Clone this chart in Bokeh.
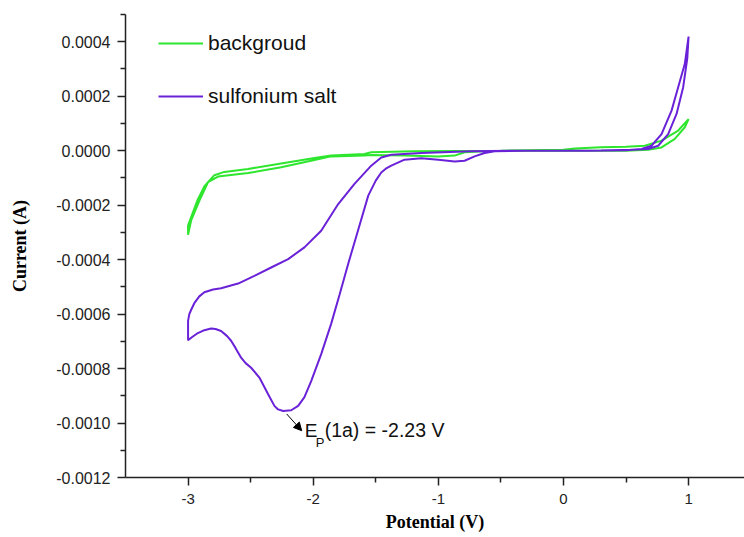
from bokeh.plotting import figure
from bokeh.models import (Range1d, FixedTicker, Legend, LegendItem, Label, Arrow,
                          NormalHead, CustomJSTickFormatter)
from bokeh.embed import file_html
from bokeh.resources import INLINE

# ---- data (potential in V, current in A) ----
salt_v = [0.0, -0.3, -0.55, -0.63, -0.71, -0.79, -0.87, -1.0, -1.136, -1.27, -1.376,
          -1.42, -1.456, -1.5, -1.56, -1.64, -1.72, -1.79, -1.856, -1.936, -2.016,
          -2.07, -2.12, -2.176, -2.24, -2.28, -2.31, -2.36, -2.43, -2.496, -2.54,
          -2.576, -2.62, -2.656, -2.69, -2.736, -2.78, -2.816, -2.87, -2.93, -2.97,
          -3.0, -3.0, -2.99, -2.976, -2.95, -2.91, -2.87, -2.8, -2.736, -2.6,
          -2.47, -2.336, -2.2, -2.07, -1.936, -1.8, -1.67, -1.536, -1.456, -1.376,
          -1.136, -0.736, -0.4, 0.0, 0.3, 0.55, 0.677, 0.757, 0.837, 0.904, 0.957,
          0.99, 1.0, 0.97, 0.917, 0.864, 0.784, 0.704, 0.624, 0.5, 0.2, 0.0]
salt_i = [0.0, 0.0, -2.5e-6, -8.6e-6, -2.1e-5, -3.7e-5, -4.0e-5, -3.3e-5, -2.8e-5,
          -3.3e-5, -5.5e-5, -6.6e-5, -8.0e-5, -1.1e-4, -1.65e-4, -2.9e-4, -4.15e-4,
          -5.3e-4, -6.35e-4, -7.47e-4, -8.46e-4, -9.05e-4, -9.37e-4, -9.53e-4,
          -9.56e-4, -9.5e-4, -9.37e-4, -8.94e-4, -8.33e-4, -7.97e-4, -7.8e-4,
          -7.6e-4, -7.25e-4, -6.98e-4, -6.8e-4, -6.62e-4, -6.55e-4, -6.53e-4,
          -6.59e-4, -6.72e-4, -6.85e-4, -6.96e-4, -6.25e-4, -6.0e-4, -5.85e-4,
          -5.6e-4, -5.35e-4, -5.2e-4, -5.1e-4, -5.05e-4, -4.88e-4, -4.6e-4, -4.29e-4,
          -3.98e-4, -3.55e-4, -2.94e-4, -1.96e-4, -1.22e-4, -5.5e-5, -2.5e-5, -1.5e-5,
          -8.6e-6, -2.5e-6, 0.0, 0.0, 1e-6, 3e-6, 6e-6, 1.8e-5, 6.1e-5, 1.35e-4,
          2.33e-4, 3.4e-4, 4.19e-4, 3.19e-4, 2.33e-4, 1.47e-4, 6.1e-5, 1.8e-5, 6e-6,
          2e-6, 0.0, 0.0]

bg_v = [0.0, -0.3, -0.6, -0.79, -0.87, -1.0, -1.27, -1.536, -1.59, -1.856, -1.99,
        -2.256, -2.52, -2.76, -2.84, -2.91, -2.976, -3.0, -3.0, -2.976, -2.923,
        -2.869, -2.79, -2.71, -2.52, -2.256, -1.99, -1.856, -1.59, -1.536, -1.2,
        -0.5, 0.0, 0.09, 0.3, 0.5, 0.65, 0.784, 0.917, 1.0, 0.97, 0.89, 0.784,
        0.677, 0.5, 0.2, 0.0]
bg_i = [0.0, 0.0, -1e-6, -6e-6, -1.8e-5, -2.1e-5, -1.8e-5, -1.6e-5, -1.8e-5, -2.1e-5,
        -3.4e-5, -6.1e-5, -8.2e-5, -9.5e-5, -1.15e-4, -1.84e-4, -2.57e-4, -3.09e-4,
        -2.75e-4, -2.45e-4, -1.8e-4, -1.3e-4, -9.0e-5, -7.8e-5, -6.7e-5, -4.7e-5,
        -2.7e-5, -1.8e-5, -1.2e-5, -6e-6, -2e-6, 0.0, 3e-6, 8e-6, 1.3e-5, 1.4e-5,
        1.8e-5, 3.7e-5, 7.4e-5, 1.16e-4, 8.6e-5, 4.3e-5, 1.2e-5, 3e-6, 0.0, 0.0, 0.0]

series_names = ["backgroud", "sulfonium salt"]
x_ticks = [-3, -2, -1, 0, 1]
x_tick_labels = ["-3", "-2", "-1", "0", "1"]
x_minor_ticks = [-2.5, -1.5, -0.5, 0.5]
y_ticks = [-0.0012, -0.0010, -0.0008, -0.0006, -0.0004, -0.0002, 0.0, 0.0002, 0.0004]
y_tick_labels = ["-0.0012", "-0.0010", "-0.0008", "-0.0006", "-0.0004", "-0.0002",
                 "0.0000", "0.0002", "0.0004"]
y_minor_ticks = [-0.0011, -0.0009, -0.0007, -0.0005, -0.0003, -0.0001, 0.0001,
                 0.0003, 0.0005]
peak_label = "(1a) = -2.23 V"

GREEN = "#2fe62f"
PURPLE = "#6a22d8"
AX = "#222222"

p = figure(width=744, height=537, output_backend="svg", toolbar_location=None,
           x_range=Range1d(-3.5, 1.447), y_range=Range1d(-0.0012, 0.0005),
           min_border_left=125, min_border_right=0, min_border_top=14,
           min_border_bottom=60)
p.xgrid.visible = False
p.ygrid.visible = False
p.outline_line_color = None
p.background_fill_color = "white"
p.border_fill_color = "white"

g = p.line(bg_v, bg_i, line_color=GREEN, line_width=2)
s = p.line(salt_v, salt_i, line_color=PURPLE, line_width=2)

fmt_code = """
let best = 0;
for (let i = 0; i < tv.length; i++) {
  if (Math.abs(tv[i] - tick) < Math.abs(tv[best] - tick)) best = i;
}
return tl[best];
"""
p.xaxis.ticker = FixedTicker(ticks=x_ticks, minor_ticks=x_minor_ticks)
p.yaxis.ticker = FixedTicker(ticks=y_ticks, minor_ticks=y_minor_ticks)
p.xaxis.formatter = CustomJSTickFormatter(args=dict(tv=x_ticks, tl=x_tick_labels), code=fmt_code)
p.yaxis.formatter = CustomJSTickFormatter(args=dict(tv=y_ticks, tl=y_tick_labels), code=fmt_code)

for ax in (p.xaxis[0], p.yaxis[0]):
    ax.axis_line_color = AX
    ax.axis_line_width = 1.5
    ax.major_tick_line_color = AX
    ax.major_tick_line_width = 1.5
    ax.minor_tick_line_color = AX
    ax.minor_tick_line_width = 1.5
    ax.major_tick_in = 0
    ax.major_tick_out = 8
    ax.minor_tick_in = 0
    ax.minor_tick_out = 5
    ax.major_label_text_font = "Liberation Sans"
    ax.major_label_text_color = AX
    ax.axis_label_text_font = "Liberation Serif"
    ax.axis_label_text_font_style = "bold"
    ax.axis_label_text_font_size = "18px"
    ax.axis_label_text_color = "black"

p.yaxis.axis_label = "Current (A)"
p.xaxis.axis_label = "Potential (V)"
p.yaxis.major_label_text_font_size = "16px"
p.yaxis.major_label_standoff = 7
p.yaxis.axis_label_standoff = 23
p.xaxis.major_label_text_font_size = "15px"
p.xaxis.major_label_standoff = 8
p.xaxis.axis_label_standoff = 5

legend = Legend(items=[LegendItem(label=series_names[0], renderers=[g]),
                       LegendItem(label=series_names[1], renderers=[s])],
                location=(33, 368), border_line_color=None, background_fill_alpha=0,
                padding=0, margin=0, spacing=27, glyph_width=45, glyph_height=26,
                label_height=26, label_standoff=5, label_text_font="Liberation Sans",
                label_text_font_size="21px", label_text_color="#111111")
p.add_layout(legend)

p.add_layout(Arrow(x_start=-2.2116, y_start=-9.668e-4, x_end=-2.0918, y_end=-1.0282e-3,
                   line_color="black", line_width=1,
                   end=NormalHead(size=8, fill_color="black", line_color="black")))
p.add_layout(Label(x=-2.068, y=-1.0263e-3, text="E", text_font="Liberation Sans",
                   text_font_size="19px", text_baseline="middle", text_color="#111111"))
p.add_layout(Label(x=-2.068, y=-1.0263e-3, x_offset=11, y_offset=-12, text="P",
                   text_font="Liberation Sans", text_font_size="13px",
                   text_baseline="middle", text_color="#111111"))
p.add_layout(Label(x=-2.068, y=-1.0263e-3, x_offset=20, text=peak_label,
                   text_font="Liberation Sans", text_font_size="19.5px",
                   text_baseline="middle", text_color="#111111"))

open("out.html", "w").write(file_html(p, INLINE))
